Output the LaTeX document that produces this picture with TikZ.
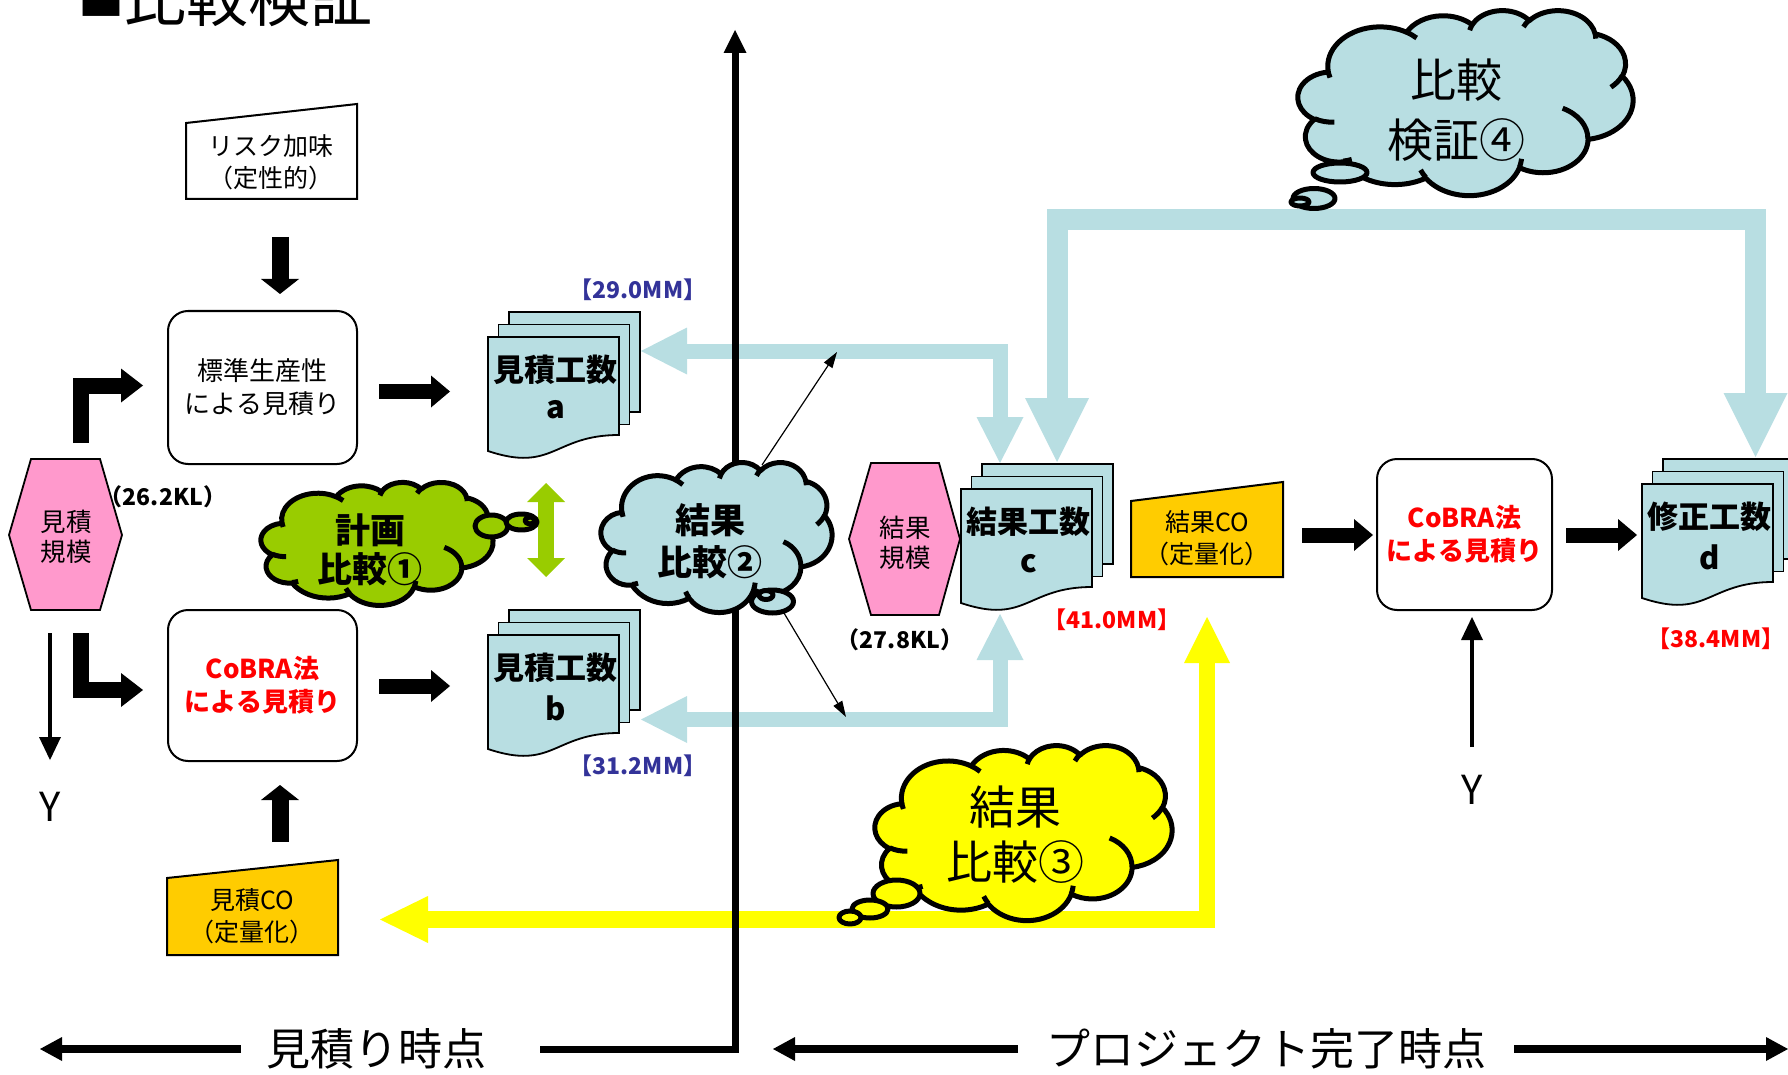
\documentclass[tikz,border=0pt]{standalone}
\usepackage{fontspec}
\setmainfont{Noto Sans CJK JP}
\usetikzlibrary{arrows.meta}
\definecolor{lb}{RGB}{184,222,226}
\definecolor{pk}{RGB}{255,153,204}
\definecolor{og}{RGB}{255,204,0}
\definecolor{gr}{RGB}{153,204,0}
\definecolor{yl}{RGB}{255,255,0}
\definecolor{bl}{RGB}{51,51,153}
\definecolor{rd}{RGB}{255,0,0}

\newcommand\ooarccalc[4]{%
  \pgfmathsetmacro\ooS{atan2((#1)*sin(#3),(#2)*cos(#3))}%
  \pgfmathsetmacro\ooE{atan2((#1)*sin((#3)+(#4)),(#2)*cos((#3)+(#4)))}%
  \pgfmathsetmacro\ooD{mod(\ooE-(\ooS)+720,360)}%
  \pgfmathsetmacro\ooRX{(#1)/432}%
  \pgfmathsetmacro\ooRY{(#2)/432}%
  \global\let\ooS\ooS\global\let\ooD\ooD
  \global\let\ooRX\ooRX\global\let\ooRY\ooRY}

\tikzset{
  ooarc/.style n args={4}{insert path={\pgfextra{\ooarccalc{#1}{#2}{#3}{#4}} arc[start angle=\ooS, delta angle=\ooD, x radius=\ooRX, y radius=\ooRY]}},
  cloudl/.style={draw=black, line width=2.5pt, line join=round},
  docline/.style={draw=black, line width=0.9pt, fill=lb},
  shp/.style={draw=black, line width=1pt},
  boxn/.style={draw=black, line width=1pt, rounded corners=10pt, fill=white, align=center, font=\fontsize{13}{16.5}\selectfont},
  redbold/.style={text=rd, font=\bfseries\fontsize{13}{16.5}\selectfont},
  smalltxt/.style={align=center, font=\fontsize{12.5}{16}\selectfont},
  hext/.style={align=center, font=\fontsize{12.75}{15}\selectfont},
  doct/.style={font=\bfseries\fontsize{15.5}{18}\selectfont},
  val/.style={font=\bfseries\fontsize{11.5}{13}\selectfont},
  bigt/.style={font=\fontsize{22}{26}\selectfont},
  yt/.style={font=\fontsize{20}{24}\selectfont},
  blkh/.style={draw=black, line width=7.5pt, -{Triangle[length=9.5pt,width=16pt,line width=0pt]}},
  blkv/.style={draw=black, line width=8.5pt, -{Triangle[length=7.5pt,width=19pt,line width=0pt]}},
  blkb/.style={draw=black, line width=8pt, line join=miter, -{Triangle[length=11pt,width=17pt,line width=0pt]}},
  lbar/.style={draw=lb, line width=7.5pt, line join=miter, {Triangle[length=23pt,width=23.5pt,line width=0pt]}-{Triangle[length=23pt,width=23.5pt,line width=0pt]}},
  lbbig/.style={draw=lb, line width=10.5pt, line join=miter, {Triangle[length=32pt,width=32pt,line width=0pt]}-{Triangle[length=32pt,width=32pt,line width=0pt]}},
  ylar/.style={draw=yl, line width=8.25pt, line join=miter, {Triangle[length=24pt,width=23.5pt,line width=0pt]}-{Triangle[length=23pt,width=23pt,line width=0pt]}},
  grar/.style={draw=gr, line width=8pt, {Triangle[length=9.5pt,width=19pt,line width=0pt]}-{Triangle[length=9.5pt,width=19pt,line width=0pt]}},
  thinar/.style={draw=black, line width=0.6pt, -{Triangle[length=8pt,width=5pt]}},
  yar/.style={draw=black, line width=2.25pt, -{Triangle[length=11.5pt,width=11pt,line width=0pt]}},
  axl/.style={draw=black, line width=4pt, -{Triangle[length=11pt,width=12pt,line width=0pt]}},
  axv/.style={draw=black, line width=3.5pt, line join=miter, -{Triangle[length=11.5pt,width=11.5pt,line width=0pt]}},
  multidoc/.pic={
    \draw[docline] (21,-25) rectangle (152,75);
    \draw[docline] (10.5,-12.5) rectangle (141.5,87.5);
    \draw[docline] (0,0) -- (131,0) -- (131,98) .. controls (65.5,98) and (65.5,136) .. (0,114) -- cycle;
  }
}

\newcommand\oocloud[5]{%
\begin{scope}[shift={(#1,#2)}, x=#3pt, y=-#4pt]
 \draw[cloudl, fill=#5] (9.028,33.264)
   [ooarc={6753}{9190}{-190.48748}{123.78053}]
   [ooarc={5333}{7267}{-144.10238}{89.94523}]
   [ooarc={4365}{5945}{-145.80792}{99.72302}]
   [ooarc={4857}{6595}{-130.98607}{117.24173}]
   [ooarc={5333}{7273}{-78.70888}{109.02692}]
   [ooarc={6775}{9220}{-46.26725}{130.269}]
   [ooarc={5785}{7867}{0.62502}{114.03333}]
   [ooarc={6752}{9215}{22.4516}{115.17255}]
   [ooarc={7720}{10543}{66.24263}{75.71102}]
   [ooarc={4360}{5918}{-274.94208}{146.73557}]
   [ooarc={4345}{5945}{-246.8285}{152.51885}] -- cycle;
 \draw[cloudl] (10.863,60.595) [ooarc={4345}{5945}{86.742}{26.4295}]
   (16.037,80.785) [ooarc={4360}{5918}{73.61047}{11.44747}]
   (38.144,90.486) [ooarc={6752}{9215}{137.62415}{14.0811}]
   (66.729,80.442) [ooarc={6752}{9215}{6.45327}{15.99835}]
   (79.002,53.134) [ooarc={5785}{7867}{-70.29235}{70.91737}]
   (96.755,35.542) [ooarc={5333}{7273}{30.31803}{27.7515}]
   (88.713,12.560) [ooarc={4857}{6595}{-13.74433}{14.8589}]
   (67.310,9.148) [ooarc={4857}{6595}{-149.18145}{18.19537}]
   (51.252,10.926) [ooarc={4365}{5945}{-163.49427}{17.68635}]
   (32.407,12.019) [ooarc={6753}{9190}{-66.70695}{12.31935}]
   (9.553,36.549) [ooarc={6753}{9190}{157.65435}{11.85817}];
\end{scope}}

\begin{document}
\begin{tikzpicture}[x=0.5pt, y=-0.5pt]
\useasboundingbox (0,0) rectangle (1788,1075);

% ---- light blue and yellow connectors
\coordinate (aR) at (641,351);
\coordinate (cTop1) at (1000,463);
\coordinate (bR) at (641,719.5);
\coordinate (cBot) at (1000,614);
\coordinate (cTop2) at (1057,462);
\coordinate (bend4) at (1406,219.5);
\coordinate (dTop) at (1755.5,457);
\draw[lbar] (aR) -| (cTop1);
\draw[lbar] (bR) -| (cBot);
\draw[lbbig] (cTop2) |- (bend4) -| (dTop);
\coordinate (mcoR) at (380,919.5);
\coordinate (rcoB) at (1207,617);
\draw[ylar] (mcoR) -| (rcoB);

% ---- time axis
\coordinate (axTop) at (735,30);
\coordinate (axStart) at (540,1049);
\draw[axv] (axStart) -| (axTop);
\coordinate (l1a) at (241,1049); \coordinate (l1b) at (40,1049);
\draw[axl] (l1a) -- (l1b);
\coordinate (r1a) at (1018,1049); \coordinate (r1b) at (773,1049);
\draw[axl] (r1a) -- (r1b);
\coordinate (r2a) at (1514,1049); \coordinate (r2b) at (1788,1049);
\draw[axl] (r2a) -- (r2b);
\node[bigt] (tl1) at (376,1049) {見積り時点};
\node[bigt] (tl2) at (1266,1049) {プロジェクト完了時点};

% ---- title
\node[anchor=base west, inner sep=0pt, font=\fontsize{31}{31}\selectfont] (title) at (78,22) {\raisebox{3pt}{\fontsize{23}{23}\selectfont ■}比較検証};

% ---- manual inputs
\draw[shp, fill=white] (186,123) -- (357,104) -- (357,199) -- (186,199) -- cycle;
\node[smalltxt] (risk) at (271,162.5) {リスク加味\\（定性的）};
\draw[shp, fill=og] (167,878) -- (338,860) -- (338,955) -- (167,955) -- cycle;
\node[smalltxt] (mco) at (252,916) {見積CO\\（定量化）};
\draw[shp, fill=og] (1131,501) -- (1283,482) -- (1283,577) -- (1131,577) -- cycle;
\node[smalltxt] (rco) at (1207,538.5) {結果CO\\（定量化）};

% ---- process boxes
\node[boxn, minimum width=94.5pt, minimum height=76.5pt] (std) at (262.5,387.5) {標準生産性\\による見積り};
\node[boxn, redbold, minimum width=94.5pt, minimum height=75.5pt] (cobra1) at (262.5,685.5) {CoBRA法\\による見積り};
\node[boxn, redbold, minimum width=87.5pt, minimum height=75.5pt] (cobra2) at (1464.5,534.5) {CoBRA法\\による見積り};

% ---- hexagons
\draw[shp, line width=0.9pt, fill=pk] (9,535) -- (31,459) -- (100,459) -- (122,535) -- (100,610) -- (31,610) -- cycle;
\node[hext] (hexa) at (66,537) {見積\\規模};
\node[val] (hexaV) at (163,497) {（26.2KL）};
\draw[shp, line width=0.9pt, fill=pk] (849,539) -- (871,463) -- (939,463) -- (960,539) -- (939,615) -- (871,615) -- cycle;
\node[hext] (hexc) at (905,542.5) {結果\\規模};
\node[val] (hexcV) at (900,640) {（27.8KL）};

% ---- documents
\pic (da) at (488,337) {multidoc};
\pic (db) at (488,635) {multidoc};
\pic (dc) at (961,489) {multidoc};
\pic (dd) at (1642,484) {multidoc};
\node[doct] (daT) at (555,370) {見積工数}; \node[doct] (daX) at (556,410) {a};
\node[doct] (dbT) at (555,668) {見積工数}; \node[doct] (dbX) at (556,708) {b};
\node[doct] (dcT) at (1028,522) {結果工数}; \node[doct] (dcX) at (1029,564) {c};
\node[doct] (ddT) at (1709,517) {修正工数}; \node[doct] (ddX) at (1710,557) {d};
\node[val, text=bl] (va) at (638,290) {【29.0MM】};
\node[val, text=bl] (vb) at (638,766) {【31.2MM】};
\node[val, text=rd] (vc) at (1112,620) {【41.0MM】};
\node[val, text=rd] (vd) at (1716,639) {【38.4MM】};

% ---- black block arrows
\coordinate (riskB) at (280,237); \coordinate (stdT) at (280,294);
\draw[blkv] (riskB) -- (stdT);
\coordinate (mcoT) at (280,842); \coordinate (cob1B) at (280,785);
\draw[blkv] (mcoT) -- (cob1B);
\coordinate (stdR) at (379,391.5); \coordinate (daLeft) at (450,391.5);
\draw[blkh] (stdR) -- (daLeft);
\coordinate (cob1R) at (379,686); \coordinate (dbLeft) at (450,686);
\draw[blkh] (cob1R) -- (dbLeft);
\coordinate (rcoR) at (1302,535); \coordinate (cob2L) at (1373,535);
\draw[blkh] (rcoR) -- (cob2L);
\coordinate (cob2R) at (1566,535); \coordinate (ddLeft) at (1637,535);
\draw[blkh] (cob2R) -- (ddLeft);
\coordinate (hexTop) at (81,443); \coordinate (stdLeft) at (143,385.5);
\draw[blkb] (hexTop) |- (stdLeft);
\coordinate (hexBot) at (81,633); \coordinate (cobLeft) at (143,690);
\draw[blkb] (hexBot) |- (cobLeft);

% ---- green double arrow
\coordinate (gTop) at (546,483); \coordinate (gBot) at (546,577);
\draw[grar] (gTop) -- (gBot);

% ---- Y arrows
\coordinate (hexY) at (50,633); \coordinate (yLtip) at (50,760);
\draw[yar] (hexY) -- (yLtip);
\node[yt] (yL) at (50,807) {Y};
\coordinate (yRstart) at (1472,747); \coordinate (cob2B) at (1472,617);
\draw[yar] (yRstart) -- (cob2B);
\node[yt] (yR) at (1472,790) {Y};

% ---- clouds
\oocloud{261}{482}{1.16}{0.615}{gr}
\draw[cloudl, fill=gr] (491.5,526) ellipse [x radius=16.5, y radius=11];
\draw[cloudl, fill=gr] (521.5,522) ellipse [x radius=15.5, y radius=8];
\draw[cloudl, fill=gr] (530,520.5) ellipse [x radius=5, y radius=3.5];
\node[align=center, font=\bfseries\fontsize{17.5}{19.5}\selectfont] (c1t) at (370,549.5) {計画\\比較①};

\oocloud{601}{462}{1.155}{0.75}{lb}
\draw[cloudl, fill=lb] (772.5,601.5) ellipse [x radius=21, y radius=11.5];
\draw[cloudl, fill=lb] (766,595) ellipse [x radius=7, y radius=4.5];
\node[align=center, font=\bfseries\fontsize{17.5}{21}\selectfont] (c2t) at (710,541) {結果\\比較②};

\oocloud{1298}{10}{1.675}{0.925}{lb}
\draw[cloudl, fill=lb] (1340,172.5) ellipse [x radius=27, y radius=9.5];
\draw[cloudl, fill=lb] (1314,198.5) ellipse [x radius=21, y radius=10];
\draw[cloudl, fill=lb] (1300,202) ellipse [x radius=9, y radius=4];
\node[align=center, font=\fontsize{23}{30}\selectfont] (c4t) at (1456,110) {比較\\検証④};

\oocloud{875}{745}{1.485}{0.875}{yl}
\draw[cloudl, fill=yl] (896.5,893.5) ellipse [x radius=23.5, y radius=13.5];
\draw[cloudl, fill=yl] (870,909) ellipse [x radius=18, y radius=9];
\draw[cloudl, fill=yl] (850,917.5) ellipse [x radius=11, y radius=6.5];
\node[align=center, font=\fontsize{23}{27.5}\selectfont] (c3t) at (1015,834.5) {結果\\比較③};

% ---- thin arrows from cloud 2
\coordinate (c2a) at (762,465); \coordinate (c2aT) at (837,352);
\draw[thinar] (c2a) -- (c2aT);
\coordinate (c2b) at (784,613); \coordinate (c2bT) at (846,717);
\draw[thinar] (c2b) -- (c2bT);
\end{tikzpicture}
\end{document}
